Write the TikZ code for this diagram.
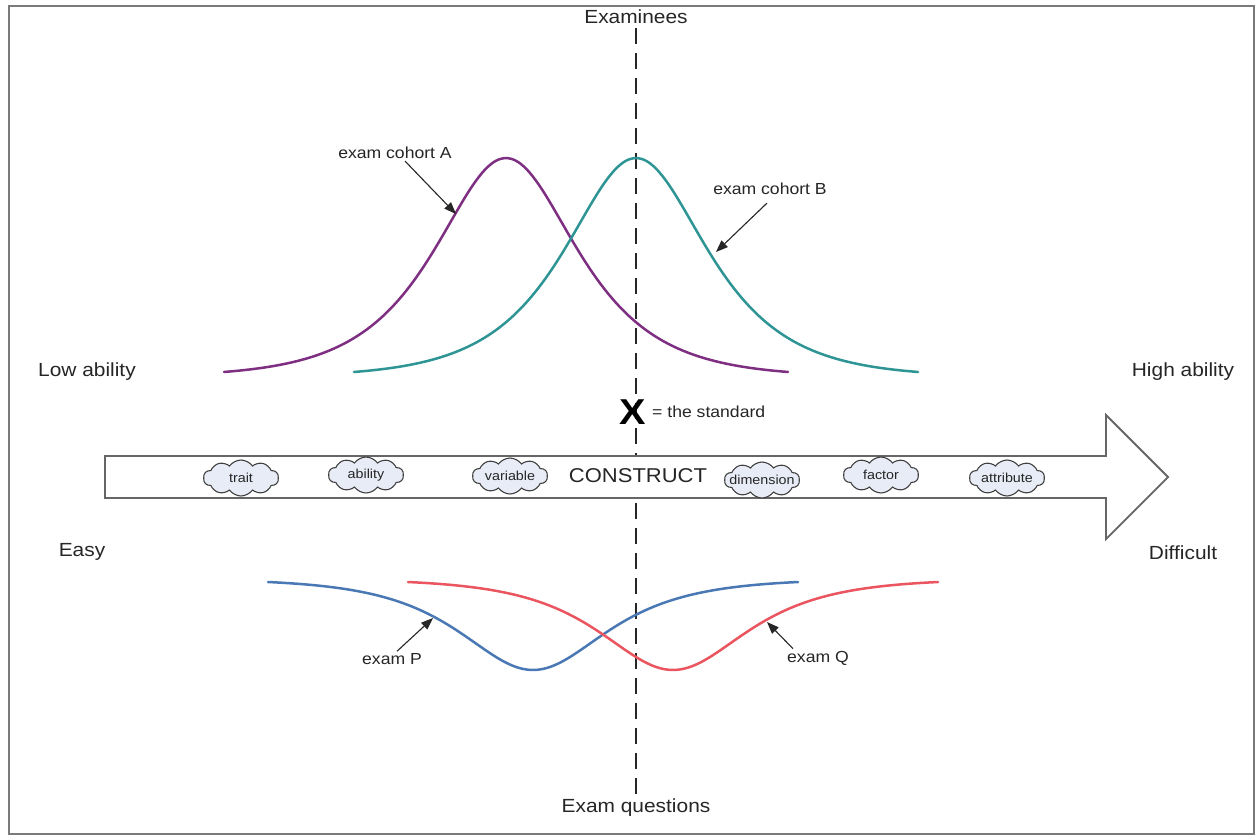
\documentclass[tikz,border=0pt]{standalone}
\usepackage{fontspec}
\setmainfont{Liberation Sans}[FakeStretch=1.1]
\usetikzlibrary{arrows.meta,shapes.symbols}
\definecolor{cohortA}{HTML}{7E2F82}
\definecolor{cohortB}{HTML}{2E9494}
\definecolor{examP}{HTML}{4A78B4}
\definecolor{examQ}{HTML}{EA5560}
\definecolor{framegray}{HTML}{7A7A7A}
\definecolor{arrowgray}{HTML}{666666}
\definecolor{cloudfill}{HTML}{E8ECF6}
\begin{document}
\begin{tikzpicture}[x=1pt,y=-1pt,
  big/.style={inner sep=2pt,text=black!85,font=\fontsize{19}{22}\selectfont},
  lbl/.style={inner sep=2pt,text=black!85,font=\fontsize{16}{18}\selectfont},
  curve/.style={line width=2.5pt,line cap=round},
  pointer/.style={draw=black!85,line width=1.1pt,-{Triangle[length=12pt,width=9pt]}},
  word/.style={cloud,cloud puffs=10,cloud puff arc=110,aspect=2.1,draw=black!75,fill=cloudfill,
    line width=1.1pt,inner sep=0pt,minimum width=75pt,minimum height=36pt,text=black!85,font=\fontsize{13}{15}\selectfont},
]
\useasboundingbox (0,0) rectangle (1260,839);
\fill[white] (0,0) rectangle (1260,839);
\draw[framegray,line width=2.4pt] (9,6) rectangle (1254,834);

% axis labels
\node[big] (exmn) at (636,17) {Examinees};
\node[big] (exq) at (636,808) {Exam questions};
\node[big] (low) at (87,372) {Low ability};
\node[big] (high) at (1183,372) {High ability};
\node[big] (easy) at (82,552) {Easy};
\node[big] (diff) at (1183,553) {Difficult};

% dashed standard line
\draw[black!85,line width=2.8pt,dash pattern=on 16pt off 9pt] ([yshift=-2pt]exmn.south) -- (exq.north);

% construct arrow
\coordinate (a1) at (105,456);
\coordinate (a2) at (1106,456);
\coordinate (a3) at (1106,415);
\coordinate (a4) at (1168,477);
\coordinate (a5) at (1106,539);
\coordinate (a6) at (1106,498);
\coordinate (a7) at (105,498);
\draw[arrowgray,fill=white,line width=1.8pt,line join=miter] (a1) -- (a2) -- (a3) -- (a4) -- (a5) -- (a6) -- (a7) -- cycle;
\node[text=black!85,font=\fontsize{20}{22}\selectfont] (construct) at (638,476) {CONSTRUCT};

\node[word] (trait) at (241,478) {\makebox[0pt]{trait}};
\node[word] (ability) at (366,475) {\makebox[0pt]{ability}};
\node[word] (variable) at (510,476) {\makebox[0pt]{variable}};
\node[word] (dimension) at (762,480) {\makebox[0pt]{dimension}};
\node[word] (factor) at (881,475) {\makebox[0pt]{factor}};
\node[word] (attribute) at (1007,478) {\makebox[0pt]{attribute}};

% the standard
\node[font=\bfseries\fontsize{36}{38}\selectfont,inner sep=0pt] (X) at (633,412) {X};
\node[lbl,anchor=west] (std) at (650,412) {= the standard};

% examinee distributions
\draw[curve,cohortA] plot[domain=224:788,samples=140,smooth] (\x,{372-214*(2/(exp((\x-506)/63)+exp((506-\x)/63))-0.0226)/0.9774});
\draw[curve,cohortB] plot[domain=354:918,samples=140,smooth] (\x,{372-214*(2/(exp((\x-636)/63)+exp((636-\x)/63))-0.0226)/0.9774});

% exam curves
\draw[curve,examP] plot[domain=268:798,samples=140,smooth] (\x,{582+88*(2/(exp((\x-533)/65)+exp((533-\x)/65))-0.0339)/0.9661});
\draw[curve,examQ] plot[domain=408:938,samples=140,smooth] (\x,{582+88*(2/(exp((\x-673)/65)+exp((673-\x)/65))-0.0339)/0.9661});

% annotations
\node[lbl] (labA) at (395,153) {exam cohort A};
\coordinate (tA) at (456,214);
\draw[pointer] ([xshift=10pt]labA.south) -- (tA);

\node[lbl] (labB) at (770,189) {exam cohort B};
\coordinate (tB) at (716,252);
\draw[pointer] ([xshift=-3pt,yshift=-6pt]labB.south) -- (tB);

\node[lbl] (labP) at (392,659) {exam P};
\coordinate (tP) at (433,618);
\draw[pointer] ([xshift=5pt]labP.north) -- (tP);

\node[lbl] (labQ) at (818,658) {exam Q};
\coordinate (tQ) at (767,622);
\draw[pointer] ([xshift=-25pt]labQ.north) -- (tQ);
\end{tikzpicture}
\end{document}
